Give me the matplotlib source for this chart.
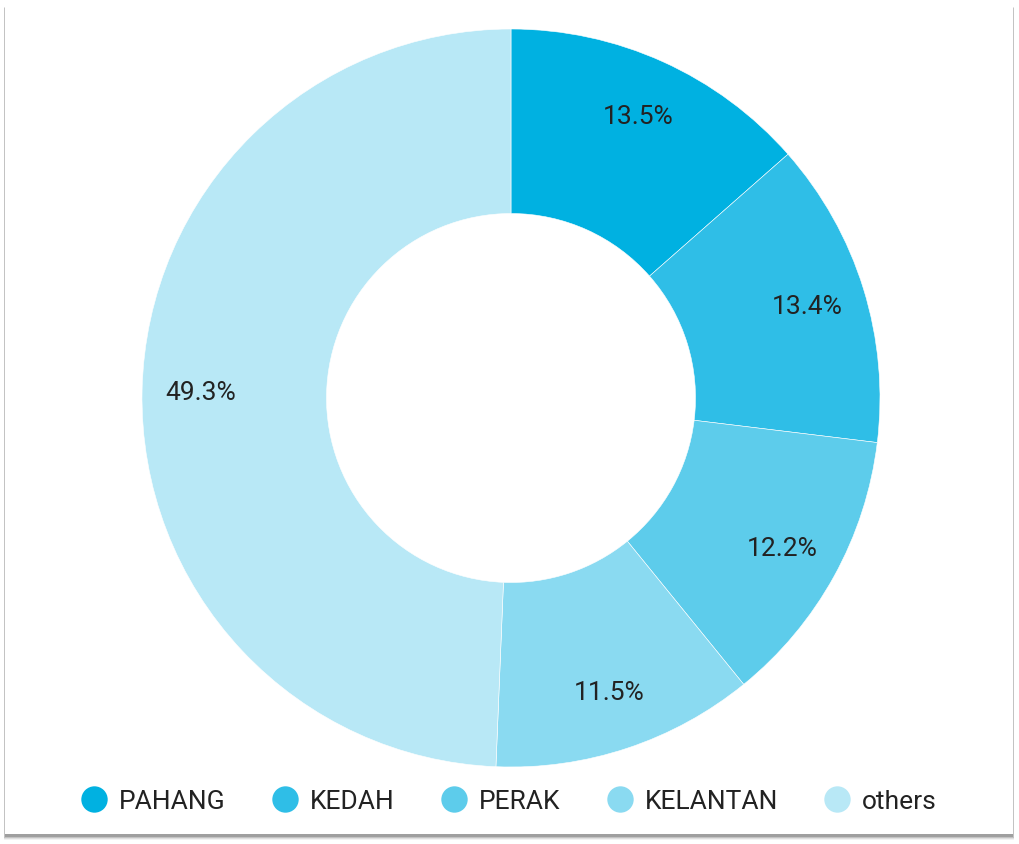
import matplotlib
matplotlib.use("Agg")
import matplotlib.pyplot as plt
from matplotlib.patches import Rectangle
from matplotlib.lines import Line2D

categories = ["PAHANG", "KEDAH", "PERAK", "KELANTAN", "others"]
values = [13.5, 13.4, 12.2, 11.5, 49.3]
colors = ["#00B1E1", "#2FBEE7", "#5DCCEB", "#8ADAF1", "#B8E8F6"]

plt.rcParams['font.family'] = ['Roboto', 'DejaVu Sans']

W, H = 1020, 845
fig = plt.figure(figsize=(W / 100, H / 100), dpi=100)
fig.patch.set_facecolor("white")

# card with soft shadow
for i, a in enumerate([0.05, 0.08, 0.12, 0.18]):
    off = 4 - i
    fig.patches.append(Rectangle(((5 - off * 0.3) / W, (10 - off) / H - 2 / H),
                                 (1008 + off * 0.6) / W, (830 + off * 0.5) / H,
                                 transform=fig.transFigure, facecolor="black",
                                 alpha=a, edgecolor="none", zorder=0))
fig.patches.append(Rectangle((5 / W, 10 / H), 1008 / W, 830 / H,
                             transform=fig.transFigure, facecolor="white",
                             edgecolor="none", zorder=1))

cx, cy, R = 511, 399, 369
ax = fig.add_axes([(cx - R) / W, (H - cy - R) / H, 2 * R / W, 2 * R / H])
ax.set_zorder(2)
wedges, texts, autotexts = ax.pie(
    values, colors=colors, startangle=90, counterclock=False, radius=1,
    autopct='%1.1f%%', pctdistance=0.84,
    wedgeprops=dict(width=0.5, edgecolor="white", linewidth=0.4),
    textprops=dict(fontsize=19, color="#222222"))
ax.set_xlim(-1, 1)
ax.set_ylim(-1, 1)
ax.set_aspect('equal')
ax.axis('off')

handles = [Line2D([0], [0], marker='o', linestyle='none', markersize=19,
                  markerfacecolor=c, markeredgecolor='none') for c in colors]
leg = fig.legend(handles, categories, loc='center', bbox_to_anchor=(509 / W, 1 - 802 / H),
                 ncol=5, frameon=False, fontsize=19, handlelength=1.0,
                 handletextpad=0.44, columnspacing=1.75, labelcolor="#222222",
                 borderpad=0, borderaxespad=0)
leg.set_zorder(3)

fig.savefig("out.png", dpi=100, facecolor="white")
